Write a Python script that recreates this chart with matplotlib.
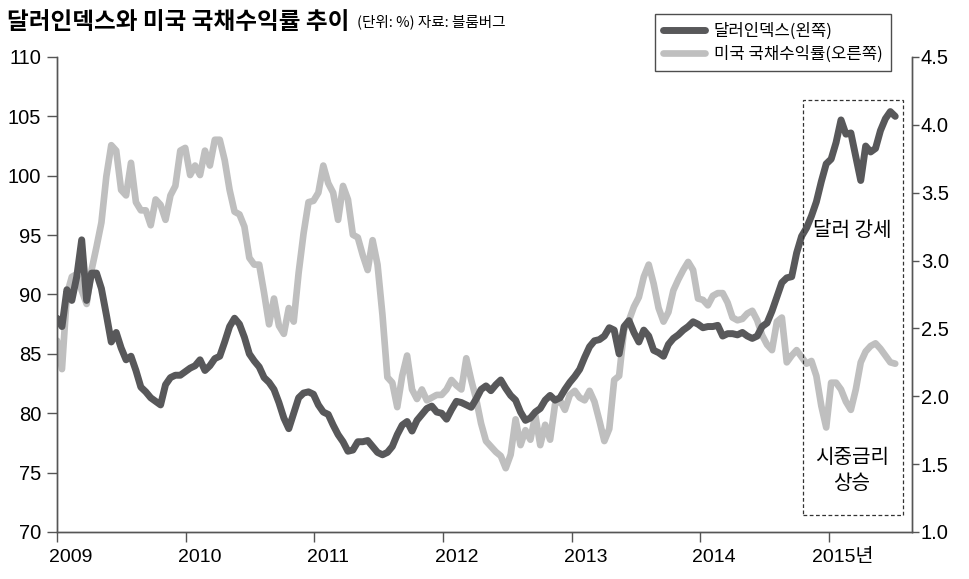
import matplotlib
matplotlib.use("Agg")
import matplotlib.pyplot as plt
import matplotlib.transforms as mtransforms
from matplotlib.patches import Rectangle
import pandas as pd

plt.rcParams['font.family'] = ['Liberation Sans', 'Noto Sans CJK KR', 'DejaVu Sans']

title = "달러인덱스와 미국 국채수익률 추이"
subtitle = "(단위: %) 자료: 블룸버그"
series_names = ["달러인덱스(왼쪽)", "미국 국채수익률(오른쪽)"]
year_ticks = [2009, 2010, 2011, 2012, 2013, 2014, 2015]
year_labels = ["2009", "2010", "2011", "2012", "2013", "2014", "2015년"]
left_ticks = [70, 75, 80, 85, 90, 95, 100, 105, 110]
right_ticks = [1.0, 1.5, 2.0, 2.5, 3.0, 3.5, 4.0, 4.5]

# biweekly observations starting 2009-01-01
dollar_index = [
    88.0, 87.3, 90.4, 89.5, 91.5, 94.6, 89.5, 91.8, 91.8, 90.5,
    88.3, 86.0, 86.8, 85.5, 84.5, 84.8, 83.6, 82.2, 81.8, 81.3,
    81.0, 80.7, 82.4, 83.0, 83.2, 83.2, 83.5, 83.8, 84.0, 84.5,
    83.6, 84.0, 84.6, 84.8, 86.0, 87.3, 88.0, 87.5, 86.4, 85.0,
    84.4, 83.9, 83.0, 82.6, 82.0, 80.9, 79.6, 78.7, 80.0, 81.3,
    81.7, 81.8, 81.6, 80.7, 80.1, 79.9, 79.0, 78.2, 77.6, 76.8,
    76.9, 77.6, 77.6, 77.7, 77.2, 76.7, 76.5, 76.7, 77.2, 78.2,
    79.0, 79.3, 78.5, 79.4, 79.9, 80.4, 80.6, 80.1, 80.0, 79.5,
    80.3, 81.0, 80.9, 80.7, 80.5, 81.2, 82.0, 82.3, 81.9, 82.4,
    82.8, 82.1, 81.5, 81.1, 80.1, 79.4, 79.6, 80.1, 80.4, 81.1,
    81.5, 81.1, 81.3, 82.0, 82.6, 83.1, 83.7, 84.7, 85.6, 86.1,
    86.2, 86.5, 87.2, 87.0, 85.0, 87.3, 87.8, 86.8, 86.0, 87.0,
    86.5, 85.3, 85.1, 84.8, 85.8, 86.3, 86.6, 87.0, 87.3, 87.7,
    87.5, 87.2, 87.3, 87.3, 87.4, 86.5, 86.7, 86.7, 86.6, 86.8,
    86.5, 86.3, 86.5, 87.3, 87.6, 88.6, 89.8, 91.0, 91.4, 91.5,
    93.5, 94.9, 95.6, 96.6, 97.8, 99.5, 101.0, 101.4, 102.8, 104.7,
    103.5, 103.6, 101.6, 99.6, 102.5, 102.0, 102.3, 103.8, 104.8, 105.4,
    105.0,
]

treasury_yield = [
    2.41, 2.20, 2.75, 2.88, 2.90, 2.78, 2.68, 2.93, 3.10, 3.28,
    3.62, 3.85, 3.81, 3.52, 3.48, 3.72, 3.43, 3.37, 3.37, 3.26,
    3.45, 3.41, 3.30, 3.48, 3.55, 3.81, 3.83, 3.63, 3.70, 3.63,
    3.81, 3.70, 3.89, 3.89, 3.74, 3.52, 3.36, 3.34, 3.25, 3.02,
    2.97, 2.97, 2.76, 2.53, 2.72, 2.52, 2.46, 2.65, 2.55, 2.91,
    3.20, 3.43, 3.44, 3.50, 3.70, 3.57, 3.50, 3.30, 3.55, 3.45,
    3.19, 3.17, 3.04, 2.93, 3.15, 2.97, 2.60, 2.14, 2.10, 1.92,
    2.15, 2.30, 2.05, 1.98, 2.05, 1.97, 1.99, 2.01, 2.01, 2.05,
    2.12, 2.08, 2.05, 2.28, 2.12, 1.98, 1.80, 1.67, 1.63, 1.59,
    1.56, 1.47, 1.57, 1.83, 1.64, 1.75, 1.68, 1.86, 1.64, 1.79,
    1.68, 1.94, 1.97, 1.90, 2.01, 2.04, 1.99, 1.97, 2.04, 1.96,
    1.82, 1.67, 1.76, 2.12, 2.15, 2.49, 2.56, 2.66, 2.73, 2.88,
    2.97, 2.83, 2.65, 2.55, 2.62, 2.78, 2.86, 2.93, 2.99, 2.93,
    2.72, 2.71, 2.67, 2.74, 2.76, 2.76, 2.69, 2.58, 2.56, 2.57,
    2.61, 2.63, 2.56, 2.45, 2.38, 2.34, 2.55, 2.58, 2.25, 2.30,
    2.34, 2.29, 2.24, 2.26, 2.15, 1.93, 1.77, 2.10, 2.10, 2.05,
    1.96, 1.90, 2.05, 2.25, 2.33, 2.37, 2.39, 2.35, 2.30, 2.25,
    2.24,
]

dates = pd.date_range("2009-01-01", periods=len(dollar_index), freq="14D")

dark = "#58585a"
light = "#bfbfbf"
spine_c = "#555555"

fig = plt.figure(figsize=(9.7, 5.79), dpi=100)
ax = fig.add_axes([0.0588, 0.0812, 0.8812, 0.8204])
ax2 = ax.twinx()

l2, = ax2.plot(dates, treasury_yield, color=light, lw=4.8, solid_joinstyle="round",
               solid_capstyle="round", label=series_names[1])
l1, = ax.plot(dates, dollar_index, color=dark, lw=5.0, solid_joinstyle="round",
              solid_capstyle="round", label=series_names[0])
ax.set_zorder(ax2.get_zorder() + 1)
ax.patch.set_visible(False)

ax.set_ylim(70, 110)
ax2.set_ylim(1.0, 4.5)
ax.set_xlim(pd.Timestamp("2009-01-01"), pd.Timestamp("2015-08-25"))

ax.set_yticks(left_ticks)
ax.set_yticklabels([str(v) for v in left_ticks])
ax2.set_yticks(right_ticks)
ax2.set_yticklabels([f"{v:.1f}" for v in right_ticks])
ax.set_xticks([pd.Timestamp(f"{y}-01-01") for y in year_ticks])
ax.set_xticklabels(year_labels)

for a in (ax, ax2):
    for s in a.spines.values():
        s.set_color(spine_c)
        s.set_linewidth(1.0)
    a.spines["top"].set_visible(False)
ax.tick_params(axis="y", direction="out", length=7, width=1, color=spine_c,
               labelsize=14.5, pad=4.5)
ax2.tick_params(axis="y", direction="out", length=5, width=1, color=spine_c,
                labelsize=14.5, pad=1.5)
ax.tick_params(axis="x", direction="out", length=7, width=1, color=spine_c,
               labelsize=14, pad=5.5)
shift = mtransforms.ScaledTranslation(0.14, 0, fig.dpi_scale_trans)
for lab in ax.get_xticklabels():
    lab.set_transform(lab.get_transform() + shift)

fig.text(0.007, 0.962, title, fontsize=17, fontweight="heavy",
         family=["Noto Sans CJK KR"], va="center", ha="left")
fig.text(0.368, 0.962, subtitle, fontsize=10.5,
         family=["Noto Sans CJK KR"], va="center", ha="left")

leg = fig.legend(handles=[l1, l2], labels=series_names, loc="upper left",
                 bbox_to_anchor=(0.675, 0.975), frameon=True, fancybox=False,
                 edgecolor="#222222", prop={"family": ["Noto Sans CJK KR"], "size": 12},
                 handlelength=2.5, handletextpad=0.55, borderpad=0.5,
                 labelspacing=0.35, borderaxespad=0)
leg.get_frame().set_linewidth(1.0)

ax.add_patch(Rectangle((0.8725, 0.036), 0.117, 0.873, transform=ax.transAxes,
                       fill=False, ls=(0, (3, 2)), lw=0.9, ec="#333333", zorder=5))
ax.text(0.93, 0.635, "달러 강세", transform=ax.transAxes, ha="center", va="center",
        fontsize=14.5, family=["Noto Sans CJK KR"], fontweight="medium", zorder=6)
ax.text(0.93, 0.13, "시중금리\n상승", transform=ax.transAxes, ha="center", va="center",
        fontsize=14.5, family=["Noto Sans CJK KR"], fontweight="medium",
        linespacing=1.3, zorder=6)

fig.savefig("out.png", dpi=100)
